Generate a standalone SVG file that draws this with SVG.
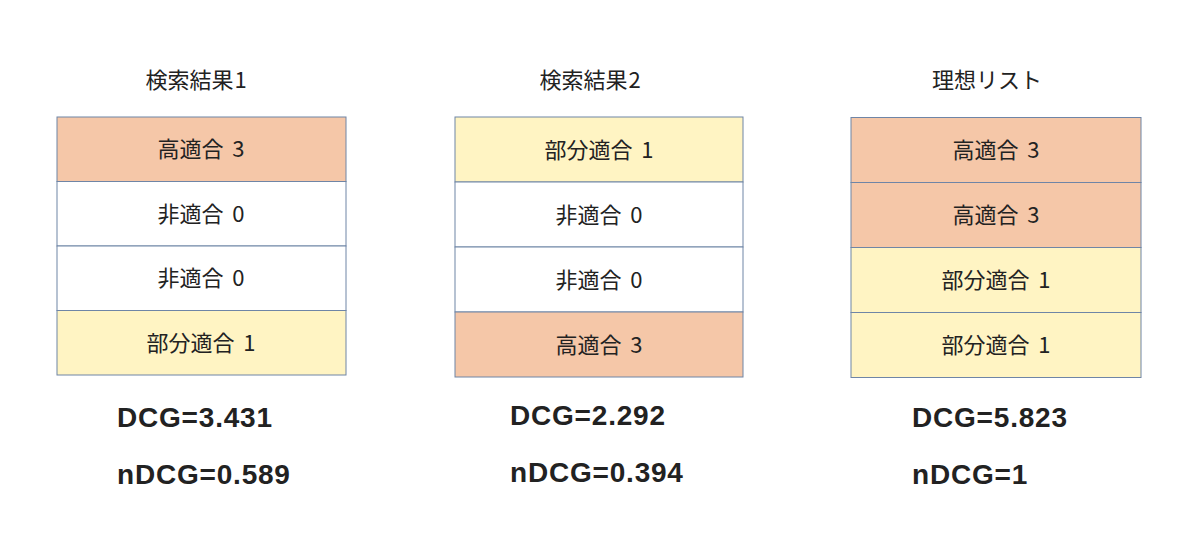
<svg xmlns="http://www.w3.org/2000/svg" width="1200" height="550" viewBox="0 0 1200 550">
<style>
.title{font-family:"Noto Sans CJK JP","Noto Sans",sans-serif;font-size:22px;fill:#222;text-anchor:middle}
.cell{font-family:"Noto Sans CJK JP","Noto Sans",sans-serif;font-size:22px;fill:#222;text-anchor:middle}
.hi{fill:#F5C7A8;stroke:#6F85A6;stroke-width:1}
.mid{fill:#FFF4C3;stroke:#6F85A6;stroke-width:1}
.no{fill:#FFFFFF;stroke:#6F85A6;stroke-width:1}
.score{font-family:"Liberation Sans",Arial,sans-serif;font-size:28px;font-weight:bold;fill:#222;letter-spacing:0.8px}
</style>
<rect width="1200" height="550" fill="#FFFFFF"/>
<g id="list1">
<text class="title" x="196" y="88">検索結果<tspan dx="1">1</tspan></text>
<rect class="hi" x="57" y="117" width="289" height="64.5"/>
<rect class="no" x="57" y="181.5" width="289" height="64.5"/>
<rect class="no" x="57" y="246" width="289" height="64.5"/>
<rect class="mid" x="57" y="310.5" width="289" height="64.5"/>
<text class="cell" x="201" y="157">高適合 <tspan dx="4">3</tspan></text>
<text class="cell" x="201" y="221.5">非適合 <tspan dx="4">0</tspan></text>
<text class="cell" x="201" y="286">非適合 <tspan dx="4">0</tspan></text>
<text class="cell" x="201" y="350.5">部分適合 <tspan dx="4">1</tspan></text>
<text class="score" x="117" y="427">DCG=3.431</text>
<text class="score" x="117" y="484">nDCG=0.589</text>
</g>
<g id="list2">
<text class="title" x="590" y="88">検索結果<tspan dx="1">2</tspan></text>
<rect class="mid" x="455" y="117" width="288" height="65"/>
<rect class="no" x="455" y="182" width="288" height="65"/>
<rect class="no" x="455" y="247" width="288" height="65"/>
<rect class="hi" x="455" y="312" width="288" height="65"/>
<text class="cell" x="599" y="157.5">部分適合 <tspan dx="4">1</tspan></text>
<text class="cell" x="599" y="222.5">非適合 <tspan dx="4">0</tspan></text>
<text class="cell" x="599" y="287.5">非適合 <tspan dx="4">0</tspan></text>
<text class="cell" x="599" y="352.5">高適合 <tspan dx="4">3</tspan></text>
<text class="score" x="510" y="425">DCG=2.292</text>
<text class="score" x="510" y="482">nDCG=0.394</text>
</g>
<g id="ideal">
<text class="title" x="987" y="88">理想リスト</text>
<rect class="hi" x="851" y="117.5" width="290" height="65"/>
<rect class="hi" x="851" y="182.5" width="290" height="65"/>
<rect class="mid" x="851" y="247.5" width="290" height="65"/>
<rect class="mid" x="851" y="312.5" width="290" height="65"/>
<text class="cell" x="996" y="158">高適合 <tspan dx="4">3</tspan></text>
<text class="cell" x="996" y="223">高適合 <tspan dx="4">3</tspan></text>
<text class="cell" x="996" y="288">部分適合 <tspan dx="4">1</tspan></text>
<text class="cell" x="996" y="353">部分適合 <tspan dx="4">1</tspan></text>
<text class="score" x="912" y="427">DCG=5.823</text>
<text class="score" x="912" y="484">nDCG=1</text>
</g>
<g id="connectors"/>
</svg>
